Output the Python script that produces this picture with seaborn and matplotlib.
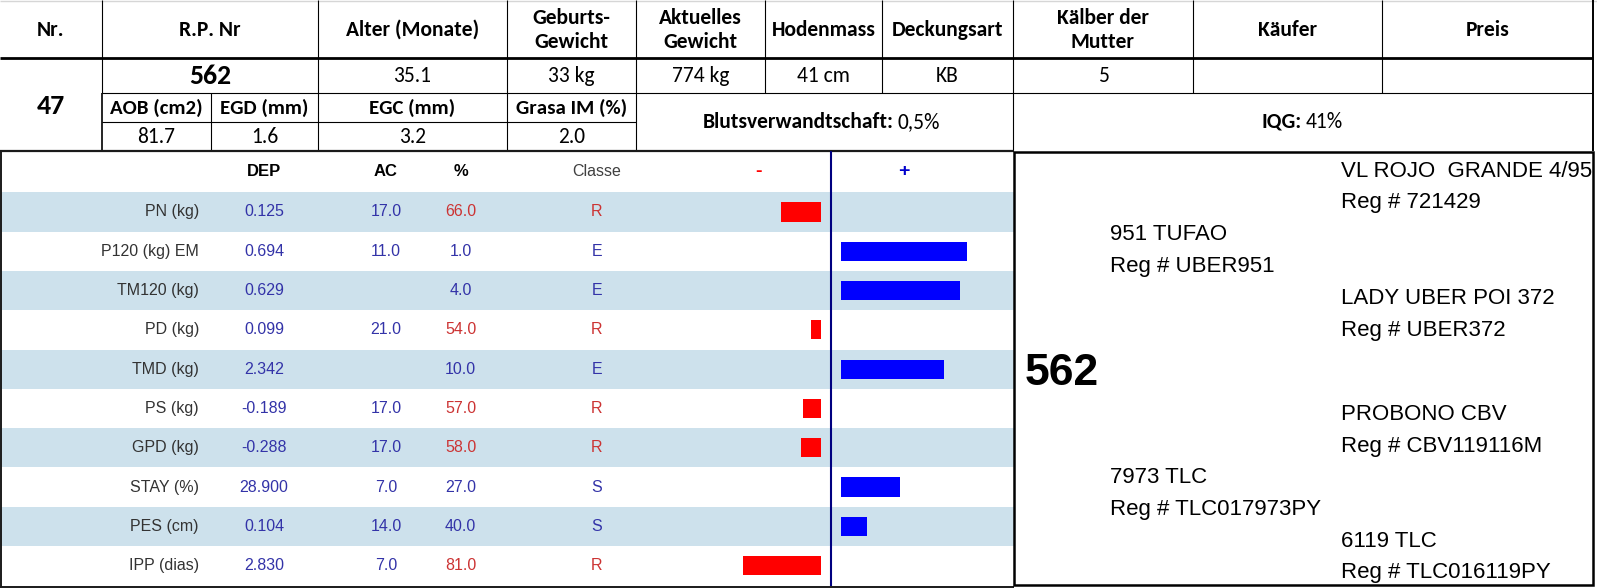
import matplotlib
matplotlib.use("Agg")
import matplotlib.pyplot as plt
from matplotlib import font_manager
from matplotlib.patches import Rectangle
import pandas as pd
import seaborn as sns

# ---- header block ----
header_labels = ["Nr.", "R.P. Nr", "Alter (Monate)", "Geburts-\nGewicht", "Aktuelles\nGewicht",
                 "Hodenmass", "Deckungsart", "Kälber der\nMutter", "Käufer", "Preis"]
header_values = ["", "562", "35.1", "33 kg", "774 kg", "41 cm", "KB", "5", "", ""]
lot_number = "47"
carcass_labels = ["AOB (cm2)", "EGD (mm)", "EGC (mm)", "Grasa IM (%)"]
carcass_values = ["81.7", "1.6", "3.2", "2.0"]
inbreeding = "0,5%"
iqg = "41%"

# ---- EPD table ----
traits = ["PN (kg)", "P120 (kg) EM", "TM120 (kg)", "PD (kg)", "TMD (kg)",
          "PS (kg)", "GPD (kg)", "STAY (%)", "PES (cm)", "IPP (dias)"]
dep = ["0.125", "0.694", "0.629", "0.099", "2.342", "-0.189", "-0.288", "28.900", "0.104", "2.830"]
ac = ["17.0", "11.0", "", "21.0", "", "17.0", "17.0", "7.0", "14.0", "7.0"]
pct = ["66.0", "1.0", "4.0", "54.0", "10.0", "57.0", "58.0", "27.0", "40.0", "81.0"]
classe = ["R", "E", "E", "R", "E", "R", "R", "S", "S", "R"]
bar_score = [-16, 49, 46, -4, 40, -7, -8, 23, 10, -31]

# ---- pedigree ----
animal_id = "562"
ped_names = ["VL ROJO  GRANDE 4/95", "951 TUFAO", "LADY UBER POI 372",
             "PROBONO CBV", "7973 TLC", "6119 TLC"]
ped_regs = ["Reg # 721429", "Reg # UBER951", "Reg # UBER372",
            "Reg # CBV119116M", "Reg # TLC017973PY", "Reg # TLC016119PY"]

available = {f.name for f in font_manager.fontManager.ttflist}


def pick(*names):
    for n in names:
        if n in available:
            return n
    return "DejaVu Sans"


HEAD_FONT = pick("Carlito", "Lato", "Open Sans")
TABLE_FONT = pick("Liberation Sans", "Arial")
PED_FONT = pick("Liberation Sans Narrow", "DejaVu Sans Condensed", "Liberation Sans")

W, H = 1597, 588
fig = plt.figure(figsize=(W / 100, H / 100), dpi=100)
ax = fig.add_axes([0, 0, 1, 1])
ax.set_xlim(0, W)
ax.set_ylim(H, 0)
ax.axis("off")

BLUE_TXT = "#3333a8"
RED_TXT = "#cc3333"
SHADE = "#cde1ec"


def line(x0, x1, y0, y1, lw=0.8, color="black"):
    ax.plot([x0, x1], [y0, y1], color=color, lw=lw, solid_capstyle="butt")


# header grid
cols = [0, 102, 318, 507, 636, 765, 882, 1013, 1193, 1382, 1593]
sub_cols = [102, 211, 318, 507, 636]
line(0, W, 0.5, 0.5, lw=1.0, color="#d6d6d6")
line(0, 1593, 58, 58, lw=2.0)
line(102, 1593, 93, 93)
line(102, 636, 122, 122)
for x in cols[1:-1]:
    line(x, x, 0, 93)
line(102, 102, 93, 151, lw=1.2)
for x in sub_cols[1:]:
    line(x, x, 93, 151)
line(1013, 1013, 93, 151)
line(1593, 1593, 0, 151, lw=1.4)

for i, lab in enumerate(header_labels):
    cx = (cols[i] + cols[i + 1]) / 2
    ax.text(cx, 30, lab, ha="center", va="center", fontsize=15.5, fontweight="bold",
            family=HEAD_FONT, linespacing=1.3)
for i, val in enumerate(header_values):
    if not val:
        continue
    cx = (cols[i] + cols[i + 1]) / 2
    big = i == 1
    ax.text(cx, 76, val, ha="center", va="center", fontsize=20 if big else 15.5,
            fontweight="bold" if big else "normal", family=HEAD_FONT)
ax.text(51, 106, lot_number, ha="center", va="center", fontsize=20, fontweight="bold", family=HEAD_FONT)
for i, (lab, val) in enumerate(zip(carcass_labels, carcass_values)):
    cx = (sub_cols[i] + sub_cols[i + 1]) / 2
    ax.text(cx, 108, lab, ha="center", va="center", fontsize=15, fontweight="bold", family=HEAD_FONT)
    ax.text(cx, 137, val, ha="center", va="center", fontsize=15.5, family=HEAD_FONT)
ax.text(894, 122, "Blutsverwandtschaft:", ha="right", va="center", fontsize=15.5,
        fontweight="bold", family=HEAD_FONT)
ax.text(898, 122, inbreeding, ha="left", va="center", fontsize=15.5, family=HEAD_FONT)
ax.text(1302, 122, "IQG:", ha="right", va="center", fontsize=15.5, fontweight="bold", family=HEAD_FONT)
ax.text(1306, 122, iqg, ha="left", va="center", fontsize=15.5, family=HEAD_FONT)

# EPD table
row_top, row_h = 192.3, 39.3
for i in range(len(traits)):
    if i % 2 == 0:
        ax.add_patch(Rectangle((1.5, row_top + i * row_h), 1012, row_h, color=SHADE, lw=0, zorder=0))

hy = 171.5
ax.text(264, hy, "DEP", ha="center", va="center", fontsize=12, fontweight="bold", family=TABLE_FONT)
ax.text(386, hy, "AC", ha="center", va="center", fontsize=12, fontweight="bold", family=TABLE_FONT)
ax.text(460.5, hy, "%", ha="center", va="center", fontsize=12, fontweight="bold", family=TABLE_FONT)
ax.text(597, hy, "Classe", ha="center", va="center", fontsize=11.5, color="#404040", family=TABLE_FONT)
ax.text(758, hy, "-", ha="center", va="center", fontsize=14, fontweight="bold", color="red", family=TABLE_FONT)
ax.text(904, hy, "+", ha="center", va="center", fontsize=14, fontweight="bold", color="#0000cc", family=TABLE_FONT)

for i, t in enumerate(traits):
    cy = row_top + (i + 0.5) * row_h
    good = classe[i] != "R"
    ax.text(199, cy, t, ha="right", va="center", fontsize=11.5, color="#333333", family=TABLE_FONT)
    ax.text(264, cy, dep[i], ha="center", va="center", fontsize=11.5, color=BLUE_TXT, family=TABLE_FONT)
    ax.text(386, cy, ac[i], ha="center", va="center", fontsize=11.5, color=BLUE_TXT, family=TABLE_FONT)
    ax.text(460.5, cy, pct[i], ha="center", va="center", fontsize=11.5,
            color=BLUE_TXT if good else RED_TXT, family=TABLE_FONT)
    ax.text(597, cy, classe[i], ha="center", va="center", fontsize=11.5,
            color=BLUE_TXT if good else RED_TXT, family=TABLE_FONT)

# table borders
line(0, 1014, 151, 151, lw=1.6, color="#1a1a1a")
line(1, 1, 151, 587, lw=1.4, color="#1a1a1a")
line(0, 1014, 586.5, 586.5, lw=1.4, color="#1a1a1a")
line(830.7, 830.7, 151, 586, lw=1.5, color="#000080")

# bars
scores = pd.DataFrame({"trait": traits, "score": bar_score})
neg = scores[scores["score"] < 0]
pos = scores[scores["score"] > 0]
y_bot = 1 - (row_top + len(traits) * row_h) / H
y_hgt = len(traits) * row_h / H

lx0, lx1 = 600, 820.7
axl = fig.add_axes([lx0 / W, y_bot, (lx1 - lx0) / W, y_hgt])
sns.barplot(data=neg, x="score", y="trait", order=traits, color="#ff0000", saturation=1,
            width=0.49, linewidth=0, ax=axl)
axl.set_xlim(-(lx1 - lx0) / 2.5, 0)

rx0, rx1 = 841, 1012
axr = fig.add_axes([rx0 / W, y_bot, (rx1 - rx0) / W, y_hgt])
sns.barplot(data=pos, x="score", y="trait", order=traits, color="#0000ff", saturation=1,
            width=0.49, linewidth=0, ax=axr)
axr.set_xlim(0, (rx1 - rx0) / 2.58)
for a in (axl, axr):
    a.set_ylim(len(traits) - 0.5, -0.5)
    a.axis("off")
    a.patch.set_alpha(0)

# pedigree box
ax.add_patch(Rectangle((1014, 152.3), 578.5, 432.2, fill=False, ec="black", lw=1.8, zorder=3))
ax.text(1025, 385, animal_id, ha="left", va="baseline", fontsize=32, fontweight="bold", family=TABLE_FONT)
ped_x = [1341, 1110, 1341, 1341, 1110, 1341]
ped_base = [176.7, 240, 304, 420, 483.3, 546.7]
for name, reg, x, yb in zip(ped_names, ped_regs, ped_x, ped_base):
    ax.text(x, yb, name, ha="left", va="baseline", fontsize=16, family=PED_FONT)
    ax.text(x, yb + 31.7, reg, ha="left", va="baseline", fontsize=16, family=PED_FONT)

fig.savefig("out.png", dpi=100)
